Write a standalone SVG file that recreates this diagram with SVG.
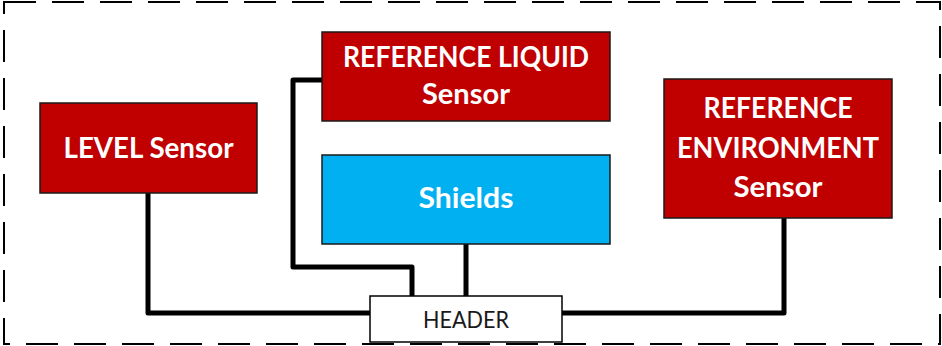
<svg xmlns="http://www.w3.org/2000/svg" width="942" height="346" viewBox="0 0 942 346">
<style>
.frame{fill:none;stroke:#000;stroke-width:2;stroke-dasharray:32 16}
.red{fill:#C00000;stroke:#1a1a1a;stroke-width:1.5}
.blue{fill:#00B0F0;stroke:#1a1a1a;stroke-width:1.5}
.hdr{fill:#fff;stroke:#000;stroke-width:1.5}
.lbl{font-family:Lato,"Liberation Sans",sans-serif;font-weight:bold;font-size:28px;fill:#fff;text-anchor:middle}
.hlbl{font-family:Lato,"Liberation Sans",sans-serif;font-size:23px;fill:#1a1a1a;text-anchor:middle}
.wire{fill:none;stroke:#000;stroke-width:5;stroke-linejoin:round;stroke-linecap:round}
</style>
<rect width="942" height="346" fill="#fff"/>
<rect class="frame" x="4" y="2" width="936" height="342"/>
<g id="connectors">
<polyline class="wire" points="148,194 148,313 370,313"/>
<polyline class="wire" points="562,313 784,313 784,219"/>
<polyline class="wire" points="322,80 293,80 293,267 412,267 412,296"/>
<line class="wire" x1="466" y1="244" x2="466" y2="296"/>
</g>
<g id="level">
<rect class="red" x="40" y="103" width="217" height="90"/>
<text class="lbl" x="148.5" y="158" textLength="170" lengthAdjust="spacingAndGlyphs">LEVEL Sensor</text>
</g>
<g id="liquid">
<rect class="red" x="322" y="32" width="288" height="89"/>
<text class="lbl" x="466" y="67" textLength="246" lengthAdjust="spacingAndGlyphs">REFERENCE LIQUID</text>
<text class="lbl" x="466" y="104" textLength="88" lengthAdjust="spacingAndGlyphs">Sensor</text>
</g>
<g id="shields">
<rect class="blue" x="322" y="155" width="288" height="89"/>
<text class="lbl" x="466" y="208" textLength="95" lengthAdjust="spacingAndGlyphs">Shields</text>
</g>
<g id="environment">
<rect class="red" x="664" y="79" width="228" height="139"/>
<text class="lbl" x="778" y="118" textLength="149" lengthAdjust="spacingAndGlyphs">REFERENCE</text>
<text class="lbl" x="778" y="158" textLength="202" lengthAdjust="spacingAndGlyphs">ENVIRONMENT</text>
<text class="lbl" x="778" y="197" textLength="89" lengthAdjust="spacingAndGlyphs">Sensor</text>
</g>
<g id="header">
<rect class="hdr" x="370" y="296" width="192" height="46"/>
<text class="hlbl" x="466" y="328" textLength="86" lengthAdjust="spacingAndGlyphs">HEADER</text>
</g>
</svg>
